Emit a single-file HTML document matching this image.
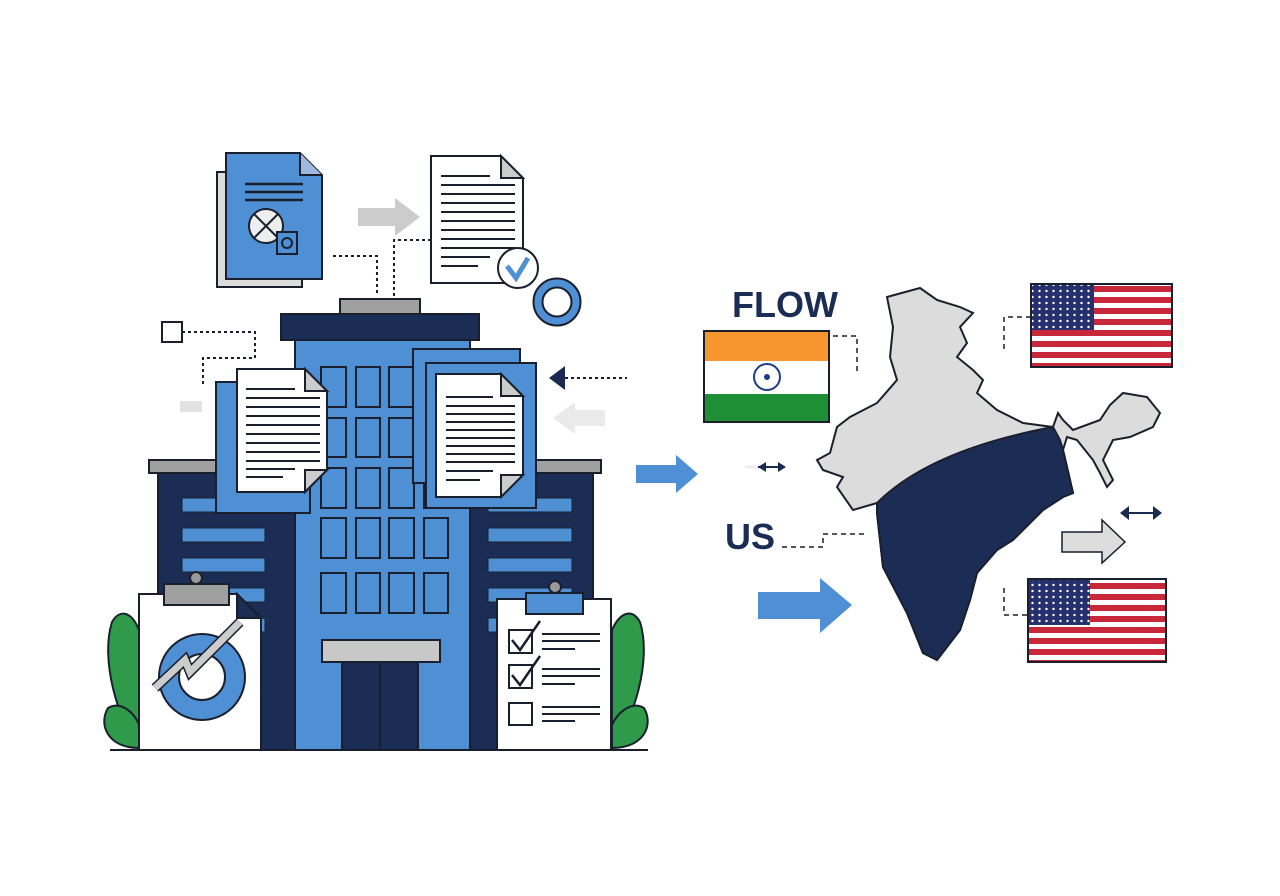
<!DOCTYPE html>
<html><head><meta charset="utf-8"><style>html,body{margin:0;padding:0;background:#fff}svg{display:block}</style></head>
<body>
<svg width="1280" height="896" viewBox="0 0 1280 896" xmlns="http://www.w3.org/2000/svg" font-family="Liberation Sans, sans-serif">
<rect width="1280" height="896" fill="#fff"/>
<g stroke="#1a1f2e" stroke-width="2">
<rect x="217" y="172" width="85" height="115" fill="#ddd"/>
<path d="M226 153 H300 L322 175 V279 H226 Z" fill="#4f8fd3"/>
<path d="M300 153 V175 H322" fill="#9fb9dd"/>
<line x1="245" y1="184" x2="303" y2="184" stroke-width="2.5"/>
<line x1="245" y1="192" x2="303" y2="192" stroke-width="2.5"/>
<line x1="245" y1="200" x2="303" y2="200" stroke-width="2.5"/>
<circle cx="266" cy="226" r="17" fill="#eee"/>
<line x1="254" y1="214" x2="278" y2="238"/><line x1="278" y1="214" x2="254" y2="238"/>
<rect x="277" y="232" width="20" height="22" fill="#4f8fd3"/>
<circle cx="287" cy="243" r="5" fill="none"/>
<path d="M431 156 H501 L523 178 V283 H431 Z" fill="#fff"/>
<path d="M501 156 V178 H523 Z" fill="#ccc"/>
</g>
<g stroke="#1a1f2e" stroke-width="2">
<line x1="441" y1="176" x2="490" y2="176"/><line x1="441" y1="185" x2="515" y2="185"/><line x1="441" y1="194" x2="515" y2="194"/><line x1="441" y1="203" x2="515" y2="203"/><line x1="441" y1="212" x2="515" y2="212"/><line x1="441" y1="221" x2="515" y2="221"/><line x1="441" y1="230" x2="515" y2="230"/><line x1="441" y1="239" x2="515" y2="239"/><line x1="441" y1="248" x2="515" y2="248"/><line x1="441" y1="257" x2="490" y2="257"/><line x1="441" y1="266" x2="478" y2="266"/>
<circle cx="518" cy="268" r="20" fill="#fff"/>
<path d="M507 266 L516 278 L528 258" fill="none" stroke="#4f8fd3" stroke-width="5"/>
</g>
<path d="M358 208 H395 V198 L420 217 L395 236 V226 H358 Z" fill="#ccc"/>
<circle cx="557" cy="302" r="19" fill="none" stroke="#1a1f2e" stroke-width="11"/>
<circle cx="557" cy="302" r="19" fill="none" stroke="#4f8fd3" stroke-width="7"/>
<g fill="none" stroke="#1a1f2e" stroke-width="2" stroke-dasharray="3 3">
<path d="M333 256 H377 V296"/><path d="M394 296 V240 H430"/>
<path d="M182 332 H255 V358 H203 V385"/>
<path d="M565 378 H627"/>
</g>
<rect x="162" y="322" width="20" height="20" fill="#fff" stroke="#1a1f2e" stroke-width="2"/>
<rect x="180" y="401" width="22" height="11" fill="#e2e2e2"/>
<path d="M549 378 L565 366 V390 Z" fill="#1a2a50"/>
<path d="M605 410 H575 V402 L553 418 L575 434 V426 H605 Z" fill="#eaeaea"/>

<g stroke="#1a1f2e" stroke-width="2">
<rect x="149" y="460" width="452" height="13" fill="#a0a0a0"/>
<rect x="158" y="473" width="435" height="277" fill="#1c2d55"/>
<rect x="340" y="299" width="80" height="15" fill="#a0a0a0"/>
<rect x="281" y="314" width="198" height="26" fill="#1c2d55"/>
<rect x="295" y="340" width="175" height="410" fill="#4f8fd3"/>
</g>
<g fill="#4f8fd3" stroke="#1a1f2e" stroke-width="1">
<rect x="182" y="498" width="83" height="14"/><rect x="182" y="528" width="83" height="14"/><rect x="182" y="558" width="83" height="14"/><rect x="182" y="588" width="83" height="14"/><rect x="182" y="618" width="83" height="14"/>
<rect x="488" y="498" width="84" height="14"/><rect x="488" y="528" width="84" height="14"/><rect x="488" y="558" width="84" height="14"/><rect x="488" y="588" width="84" height="14"/><rect x="488" y="618" width="84" height="14"/>
</g>
<g fill="#4f8fd3" stroke="#1a1f2e" stroke-width="2">
<rect x="321" y="367" width="25" height="40"/><rect x="356" y="367" width="24" height="40"/><rect x="389" y="367" width="25" height="40"/>
<rect x="321" y="418" width="25" height="39"/><rect x="356" y="418" width="24" height="39"/><rect x="389" y="418" width="25" height="39"/>
<rect x="321" y="468" width="25" height="40"/><rect x="356" y="468" width="24" height="40"/><rect x="389" y="468" width="25" height="40"/><rect x="424" y="468" width="24" height="40"/>
<rect x="321" y="518" width="25" height="40"/><rect x="356" y="518" width="24" height="40"/><rect x="389" y="518" width="25" height="40"/><rect x="424" y="518" width="24" height="40"/>
<rect x="321" y="573" width="25" height="40"/><rect x="356" y="573" width="24" height="40"/><rect x="389" y="573" width="25" height="40"/><rect x="424" y="573" width="24" height="40"/>
<rect x="322" y="640" width="118" height="22" fill="#c8c8c8"/>
<rect x="342" y="662" width="38" height="88" fill="#1c2d55"/><rect x="380" y="662" width="38" height="88" fill="#1c2d55"/>
<rect x="216" y="382" width="94" height="131"/>
<path d="M237 369 H305 L327 391 V470 L305 492 H237 Z" fill="#fff"/>
<path d="M305 369 V391 H327 Z" fill="#ccc"/><path d="M305 492 V470 H327 Z" fill="#ccc"/>
<rect x="413" y="349" width="107" height="134"/>
<rect x="426" y="363" width="110" height="145"/>
<path d="M436 374 H501 L523 396 V475 L501 497 H436 Z" fill="#fff"/>
<path d="M501 374 V396 H523 Z" fill="#ccc"/><path d="M501 497 V475 H523 Z" fill="#ccc"/>
</g>
<g stroke="#1a1f2e" stroke-width="2">
<line x1="246" y1="389" x2="295" y2="389"/><line x1="246" y1="398" x2="320" y2="398"/><line x1="246" y1="407" x2="320" y2="407"/><line x1="246" y1="416" x2="320" y2="416"/><line x1="246" y1="425" x2="320" y2="425"/><line x1="246" y1="434" x2="320" y2="434"/><line x1="246" y1="443" x2="320" y2="443"/><line x1="246" y1="452" x2="320" y2="452"/><line x1="246" y1="461" x2="320" y2="461"/><line x1="246" y1="469" x2="295" y2="469"/><line x1="246" y1="477" x2="283" y2="477"/>
<line x1="446" y1="397" x2="493" y2="397"/><line x1="446" y1="406" x2="515" y2="406"/><line x1="446" y1="414" x2="515" y2="414"/><line x1="446" y1="422" x2="515" y2="422"/><line x1="446" y1="430" x2="515" y2="430"/><line x1="446" y1="438" x2="515" y2="438"/><line x1="446" y1="446" x2="515" y2="446"/><line x1="446" y1="454" x2="515" y2="454"/><line x1="446" y1="462" x2="515" y2="462"/><line x1="446" y1="471" x2="493" y2="471"/><line x1="446" y1="480" x2="480" y2="480"/>
</g>
<g fill="#2e9a4a" stroke="#1a1f2e" stroke-width="2">
<path d="M139 748 C118 720 100 660 112 622 C120 608 132 612 139 630 Z"/>
<path d="M139 748 C108 748 98 725 108 708 C122 700 136 715 139 725 Z"/>
<path d="M612 748 C634 720 652 660 640 622 C632 608 620 612 612 630 Z"/>
<path d="M612 748 C644 748 654 725 644 708 C630 700 616 715 612 725 Z"/>
</g>
<g stroke="#1a1f2e" stroke-width="2">
<path d="M139 594 H237 L261 618 V750 H139 Z" fill="#fff"/>
<path d="M237 594 L261 618 H237 Z" fill="#1c2d55"/>
<circle cx="196" cy="578" r="6" fill="#999"/>
<rect x="164" y="584" width="65" height="21" fill="#a0a0a0"/>
<circle cx="202" cy="677" r="33" fill="none" stroke-width="22"/>
<circle cx="202" cy="677" r="33" fill="none" stroke="#4f8fd3" stroke-width="18"/>
<path d="M155 688 L185 660 L190 672 L240 622" fill="none" stroke="#1a1f2e" stroke-width="10"/>
<path d="M155 688 L185 660 L190 672 L240 622" fill="none" stroke="#ccc" stroke-width="7"/>
<rect x="497" y="599" width="114" height="151" fill="#fff"/>
<circle cx="555" cy="587" r="6" fill="#999"/>
<rect x="526" y="593" width="57" height="21" fill="#4f8fd3"/>
<rect x="509" y="630" width="23" height="23" fill="#fff"/><rect x="509" y="665" width="23" height="23" fill="#fff"/><rect x="509" y="703" width="23" height="22" fill="#fff"/>
<path d="M512 640 L520 650 L540 621" fill="none" stroke-width="2.5"/>
<path d="M512 675 L520 685 L540 656" fill="none" stroke-width="2.5"/>
<line x1="542" y1="634" x2="600" y2="634"/><line x1="542" y1="641" x2="600" y2="641"/><line x1="542" y1="649" x2="575" y2="649"/>
<line x1="542" y1="669" x2="600" y2="669"/><line x1="542" y1="676" x2="600" y2="676"/><line x1="542" y1="684" x2="575" y2="684"/>
<line x1="542" y1="707" x2="600" y2="707"/><line x1="542" y1="714" x2="600" y2="714"/><line x1="542" y1="721" x2="575" y2="721"/>
<line x1="110" y1="750" x2="648" y2="750"/>
</g>

<path d="M636 465 H676 V455 L698 474 L676 493 V483 H636 Z" fill="#4f8fd3"/>
<path d="M745 467 H760" stroke="#eee" stroke-width="3"/>
<path d="M758 467 H780" stroke="#1a2a50" stroke-width="2"/><path d="M786 467 L778 462 V472 Z" fill="#1a2a50"/><path d="M758 467 L766 462 V472Z" fill="#1a2a50"/>
<path d="M758 592 H820 V578 L852 605 L820 633 V619 H758 Z" fill="#4f8fd3"/>

<text x="732" y="317" font-size="36" font-weight="bold" fill="#1c2d55">FLOW</text>
<text x="725" y="549" font-size="36" font-weight="bold" fill="#1c2d55">US</text>

<g stroke="#1a1f2e" stroke-width="2">
<rect x="704" y="331" width="125" height="91" fill="#fff"/>
<rect x="705" y="332" width="123" height="29" fill="#f7962e" stroke="none"/>
<rect x="705" y="394" width="123" height="27" fill="#1f8f35" stroke="none"/>
<circle cx="767" cy="377" r="13" fill="none" stroke="#1c3d8a" stroke-width="2"/>
<circle cx="767" cy="377" r="3" fill="#1c3d8a" stroke="none"/>
</g>
<g fill="none" stroke="#1a1f2e" stroke-width="1.5" stroke-dasharray="5 4">
<path d="M833 336 H857 V372"/>
<path d="M1031 317 H1004 V353"/>
<path d="M782 547 H823 V534 H868"/>
<path d="M1004 588 V615 H1028"/>
</g>

<path d="M887 297 L920 288 L937 300 L960 307 L973 313 L960 327 L967 343 L957 357 L973 370 L983 380 L977 393 L997 410 L1023 423 L1053 427 L1058 413 L1063 420 L1073 430 L1100 420 L1110 405 L1123 393 L1147 397 L1160 413 L1153 427 L1130 437 L1113 440 L1103 460 L1113 480 L1107 487 L1100 473 L1093 460 L1077 440 L1067 437 L1063 450 L1067 467 L1073 493 L1063 497 L1043 510 L1013 540 L997 550 L977 573 L970 600 L960 630 L937 660 L923 653 L907 613 L883 567 L877 513 L877 503 L853 510 L837 487 L843 477 L823 470 L817 460 L830 453 L837 427 L850 417 L877 403 L897 380 L890 357 L893 327 Z" fill="#dcdcdc" stroke="#1a1f2e" stroke-width="2"/>
<path d="M877 503 Q930 450 1053 427 L1060 440 L1063 450 L1067 467 L1073 493 L1063 497 L1043 510 L1013 540 L997 550 L977 573 L970 600 L960 630 L937 660 L923 653 L907 613 L883 567 L877 513 Z" fill="#1c2d55" stroke="#1a1f2e" stroke-width="2"/>

<defs>
<pattern id="stripes" x="0" y="0" width="10" height="11" patternUnits="userSpaceOnUse"><rect width="10" height="6" fill="#c8283a"/><rect y="6" width="10" height="5" fill="#fff"/></pattern>
<pattern id="stars" x="0" y="0" width="7" height="6" patternUnits="userSpaceOnUse"><rect width="7" height="6" fill="#26306e"/><circle cx="3.5" cy="3" r="1.2" fill="#fff"/></pattern>
</defs>
<g stroke="#1a1f2e" stroke-width="2">
<rect x="1031" y="284" width="141" height="83" fill="url(#stripes)"/>
<rect x="1032" y="285" width="62" height="45" fill="url(#stars)" stroke="none"/>
<rect x="1028" y="579" width="138" height="83" fill="url(#stripes)"/>
<rect x="1029" y="580" width="61" height="45" fill="url(#stars)" stroke="none"/>
</g>
<path d="M1062 532 H1102 V520 L1125 542 L1102 563 V552 H1062 Z" fill="#ddd" stroke="#1a1f2e" stroke-width="1.5"/>
<path d="M1126 513 H1156" stroke="#1a2a50" stroke-width="2"/><path d="M1120 513 L1129 506 V520 Z M1162 513 L1153 506 V520 Z" fill="#1a2a50"/>
</svg>
</body></html>
